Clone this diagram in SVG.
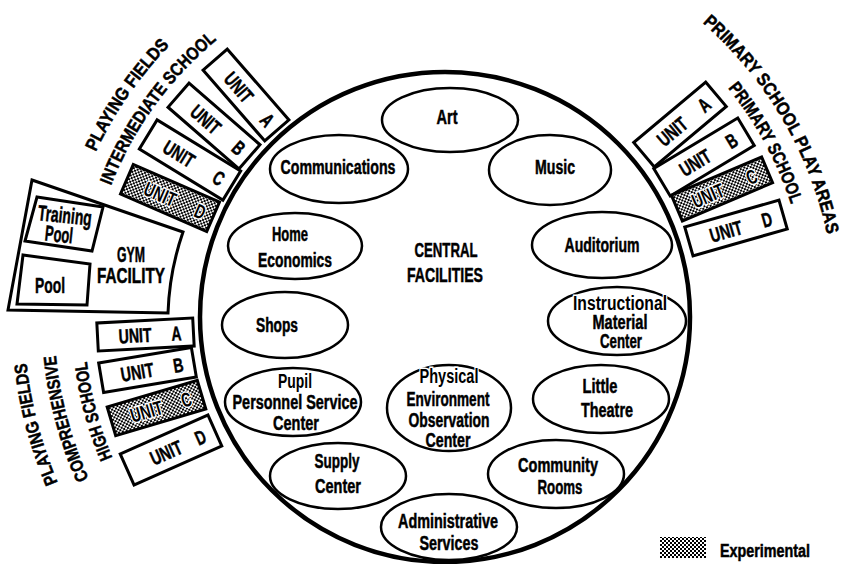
<svg xmlns="http://www.w3.org/2000/svg" width="843" height="564" viewBox="0 0 843 564">
<defs>
<pattern id="hatch" width="4" height="4" patternUnits="userSpaceOnUse"><rect width="4" height="4" fill="#fff"/><rect width="2" height="2" fill="#000"/><rect x="2" y="2" width="2" height="2" fill="#000"/></pattern>
<path id="arcR1" d="M666.5,-5.2 A391,391 0 0 1 834.2,279.5"/>
<path id="arcR2" d="M686.2,44.4 A364,364 0 0 1 805,263.2"/>
<path id="arcL1" d="M72,218 A387,387 0 0 1 223,0"/>
<path id="arcL2" d="M96.7,230.1 A359,359 0 0 1 254.8,12.6"/>
<path id="arcB1" d="M98.9,556.7 A421,421 0 0 1 25.8,278.1"/>
<path id="arcB2" d="M124.7,541.3 A391,391 0 0 1 55.5,282.9"/>
<path id="arcB3" d="M149.3,524.1 A361,361 0 0 1 85.4,285.5"/>
</defs>
<style>
text{font-family:"Liberation Sans",Arial,sans-serif;font-weight:bold;fill:#000;stroke:#000;stroke-width:0.5}
.t{font-size:20px;text-anchor:middle}
.u{font-size:20px}
.lb{font-size:18px;text-anchor:middle}
.g{font-size:22px;text-anchor:middle}
.e{fill:#fff;stroke:#000;stroke-width:2.5}
.box{fill:#fff;stroke:#000;stroke-width:3}
.hbox{fill:url(#hatch);stroke:#000;stroke-width:3}
.halo{stroke:#fff;stroke-width:3;paint-order:stroke}
</style>
<rect width="843" height="564" fill="#fff"/>
<g id="central">
<circle cx="445" cy="317" r="245" fill="#fff" stroke="#000" stroke-width="4.5"/>
<text class="t" x="446" y="257" textLength="63" lengthAdjust="spacingAndGlyphs">CENTRAL</text>
<text class="t" x="445" y="282" textLength="76" lengthAdjust="spacingAndGlyphs">FACILITIES</text>
</g>
<g id="art"><ellipse class="e" cx="450" cy="120" rx="68" ry="32"/><text class="t" x="447" y="124" textLength="21" lengthAdjust="spacingAndGlyphs">Art</text></g>
<g id="communications"><ellipse class="e" cx="339" cy="169" rx="69" ry="34"/><text class="t" x="338" y="174" textLength="115" lengthAdjust="spacingAndGlyphs">Communications</text></g>
<g id="music"><ellipse class="e" cx="550" cy="170" rx="61" ry="35"/><text class="t" x="555" y="174" textLength="40" lengthAdjust="spacingAndGlyphs">Music</text></g>
<g id="home-economics"><ellipse class="e" cx="295" cy="246" rx="67" ry="33"/><text class="t" x="290" y="241" textLength="36" lengthAdjust="spacingAndGlyphs">Home</text><text class="t" x="295" y="267" textLength="74" lengthAdjust="spacingAndGlyphs">Economics</text></g>
<g id="auditorium"><ellipse class="e" cx="602" cy="245" rx="70" ry="33"/><text class="t" x="602" y="252" textLength="75" lengthAdjust="spacingAndGlyphs">Auditorium</text></g>
<g id="imc"><ellipse class="e" cx="617" cy="321" rx="69" ry="34"/><text class="t halo" x="620" y="310" textLength="94" lengthAdjust="spacingAndGlyphs">Instructional</text><text class="t" x="620" y="329" textLength="55" lengthAdjust="spacingAndGlyphs">Material</text><text class="t" x="621" y="348" textLength="42" lengthAdjust="spacingAndGlyphs">Center</text></g>
<g id="shops"><ellipse class="e" cx="285" cy="325" rx="63" ry="33"/><text class="t" x="277" y="332" textLength="42" lengthAdjust="spacingAndGlyphs">Shops</text></g>
<g id="pupil"><ellipse class="e" cx="293" cy="402" rx="68" ry="34"/><text class="t halo" x="295" y="388" textLength="34" lengthAdjust="spacingAndGlyphs">Pupil</text><text class="t" x="295" y="409" textLength="125" lengthAdjust="spacingAndGlyphs">Personnel Service</text><text class="t" x="296" y="430" textLength="46" lengthAdjust="spacingAndGlyphs">Center</text></g>
<g id="physical"><ellipse class="e" cx="449" cy="408" rx="62" ry="43"/><text class="t halo" x="449" y="383" textLength="59" lengthAdjust="spacingAndGlyphs">Physical</text><text class="t" x="448" y="406" textLength="83" lengthAdjust="spacingAndGlyphs">Environment</text><text class="t" x="449" y="427" textLength="81" lengthAdjust="spacingAndGlyphs">Observation</text><text class="t" x="448" y="447" textLength="45" lengthAdjust="spacingAndGlyphs">Center</text></g>
<g id="little-theatre"><ellipse class="e" cx="601" cy="399" rx="68" ry="34"/><text class="t" x="600" y="393" textLength="35" lengthAdjust="spacingAndGlyphs">Little</text><text class="t" x="607" y="417" textLength="52" lengthAdjust="spacingAndGlyphs">Theatre</text></g>
<g id="supply"><ellipse class="e" cx="338" cy="476" rx="68" ry="33"/><text class="t" x="337" y="468" textLength="45" lengthAdjust="spacingAndGlyphs">Supply</text><text class="t" x="338" y="493" textLength="46" lengthAdjust="spacingAndGlyphs">Center</text></g>
<g id="community"><ellipse class="e" cx="556" cy="474" rx="68" ry="34"/><text class="t" x="558" y="472" textLength="80" lengthAdjust="spacingAndGlyphs">Community</text><text class="t" x="560" y="494" textLength="45" lengthAdjust="spacingAndGlyphs">Rooms</text></g>
<g id="admin"><ellipse class="e" cx="449" cy="527" rx="68" ry="33"/><text class="t" x="448" y="528" textLength="100" lengthAdjust="spacingAndGlyphs">Administrative</text><text class="t" x="449" y="550" textLength="59" lengthAdjust="spacingAndGlyphs">Services</text></g>

<g id="int-a" transform="translate(246,95) rotate(49)"><rect class="box" x="-47" y="-16" width="94" height="32"/><text class="u" x="-27" y="7.5" textLength="33" lengthAdjust="spacingAndGlyphs">UNIT</text><text class="u" x="28" y="7.5" textLength="10" lengthAdjust="spacingAndGlyphs">A</text></g>
<g id="int-b" transform="translate(214,126) rotate(41)"><rect class="box" x="-47" y="-16" width="94" height="32"/><text class="u" x="-27" y="7.5" textLength="33" lengthAdjust="spacingAndGlyphs">UNIT</text><text class="u" x="28" y="7.5" textLength="10" lengthAdjust="spacingAndGlyphs">B</text></g>
<g id="int-c" transform="translate(190,160) rotate(31.5)"><rect class="box" x="-49" y="-17" width="98" height="34"/><text class="u" x="-29" y="7.5" textLength="33" lengthAdjust="spacingAndGlyphs">UNIT</text><text class="u" x="29" y="7.5" textLength="10" lengthAdjust="spacingAndGlyphs">C</text></g>
<g id="int-d" transform="translate(170,198) rotate(23.5)"><rect class="hbox" x="-47" y="-16" width="94" height="32"/><text class="u halo" x="-27" y="7.5" textLength="33" lengthAdjust="spacingAndGlyphs">UNIT</text><text class="u halo" x="28" y="7.5" textLength="10" lengthAdjust="spacingAndGlyphs">D</text></g>

<g id="hs-a" transform="translate(145.5,334.5) rotate(-3)"><rect class="box" x="-48" y="-14" width="96" height="28"/><text class="u" x="-27" y="7.5" textLength="33" lengthAdjust="spacingAndGlyphs">UNIT</text><text class="u" x="26" y="7.5" textLength="10" lengthAdjust="spacingAndGlyphs">A</text></g>
<g id="hs-b" transform="translate(147.5,370) rotate(-9.5)"><rect class="box" x="-47" y="-15" width="94" height="30"/><text class="u" x="-27" y="7.5" textLength="33" lengthAdjust="spacingAndGlyphs">UNIT</text><text class="u" x="26" y="7.5" textLength="10" lengthAdjust="spacingAndGlyphs">B</text></g>
<g id="hs-c" transform="translate(156.5,408) rotate(-16.5)"><rect class="hbox" x="-47" y="-15" width="94" height="30"/><text class="u halo" x="-27" y="7.5" textLength="33" lengthAdjust="spacingAndGlyphs">UNIT</text><text class="u halo" x="26" y="7.5" textLength="10" lengthAdjust="spacingAndGlyphs">C</text></g>
<g id="hs-d" transform="translate(171,450) rotate(-24)"><rect class="box" x="-48" y="-17" width="96" height="34"/><text class="u" x="-22" y="7.5" textLength="33" lengthAdjust="spacingAndGlyphs">UNIT</text><text class="u" x="27" y="7.5" textLength="10" lengthAdjust="spacingAndGlyphs">D</text></g>

<g id="pr-a" transform="translate(680,124.5) rotate(-40)"><rect class="box" x="-47" y="-16" width="94" height="32"/><text class="u" x="-27" y="7.5" textLength="33" lengthAdjust="spacingAndGlyphs">UNIT</text><text class="u" x="26" y="7.5" textLength="10" lengthAdjust="spacingAndGlyphs">A</text></g>
<g id="pr-b" transform="translate(704,157) rotate(-31)"><rect class="box" x="-49" y="-16" width="98" height="32"/><text class="u" x="-27" y="7.5" textLength="33" lengthAdjust="spacingAndGlyphs">UNIT</text><text class="u" x="27" y="7.5" textLength="10" lengthAdjust="spacingAndGlyphs">B</text></g>
<g id="pr-c" transform="translate(722,189) rotate(-23)"><rect class="hbox" x="-49" y="-14" width="98" height="28"/><text class="u halo" x="-32" y="7.5" textLength="33" lengthAdjust="spacingAndGlyphs">UNIT</text><text class="u halo" x="27" y="7.5" textLength="10" lengthAdjust="spacingAndGlyphs">C</text></g>
<g id="pr-d" transform="translate(736,228) rotate(-16)"><rect class="box" x="-49" y="-15" width="98" height="30"/><text class="u" x="-27" y="7.5" textLength="33" lengthAdjust="spacingAndGlyphs">UNIT</text><text class="u" x="27" y="7.5" textLength="10" lengthAdjust="spacingAndGlyphs">D</text></g>

<g id="gym">
<path class="box" d="M32,180 L183,232 A276,276 0 0 0 168,313 L8,310 Z"/>
<polygon class="box" points="37,197 103,207 92,251 25,241"/>
<polygon class="box" points="23,255 90,264 87,305 17,304"/>
<text class="g" x="65" y="223" textLength="54" lengthAdjust="spacingAndGlyphs" transform="rotate(6,65,215)">Training</text>
<text class="g" x="59" y="242" textLength="28" lengthAdjust="spacingAndGlyphs" transform="rotate(6,59,235)">Pool</text>
<text class="g" x="50" y="293" textLength="30" lengthAdjust="spacingAndGlyphs">Pool</text>
<text class="g" x="131" y="262" textLength="28" lengthAdjust="spacingAndGlyphs">GYM</text>
<text class="g" x="131" y="283" textLength="68" lengthAdjust="spacingAndGlyphs">FACILITY</text>
</g>

<g id="labels">
<text class="lb"><textPath href="#arcR1" startOffset="50%" textLength="250" lengthAdjust="spacingAndGlyphs">PRIMARY SCHOOL PLAY AREAS</textPath></text>
<text class="lb"><textPath href="#arcR2" startOffset="50%" textLength="133" lengthAdjust="spacingAndGlyphs">PRIMARY SCHOOL</textPath></text>
<text class="lb"><textPath href="#arcL1" startOffset="50%" textLength="130" lengthAdjust="spacingAndGlyphs">PLAYING FIELDS</textPath></text>
<text class="lb"><textPath href="#arcL2" startOffset="50%" textLength="182" lengthAdjust="spacingAndGlyphs">INTERMEDIATE SCHOOL</textPath></text>
<text class="lb"><textPath href="#arcB1" startOffset="50%" textLength="124" lengthAdjust="spacingAndGlyphs">PLAYING FIELDS</textPath></text>
<text class="lb"><textPath href="#arcB2" startOffset="50%" textLength="128" lengthAdjust="spacingAndGlyphs">COMPREHENSIVE</textPath></text>
<text class="lb"><textPath href="#arcB3" startOffset="50%" textLength="100" lengthAdjust="spacingAndGlyphs">HIGH SCHOOL</textPath></text>
</g>

<g id="legend">
<rect x="660" y="537" width="46" height="21" fill="url(#hatch)"/>
<text class="u" x="720" y="557" style="font-size:18px" textLength="90" lengthAdjust="spacingAndGlyphs">Experimental</text>
</g>
</svg>
